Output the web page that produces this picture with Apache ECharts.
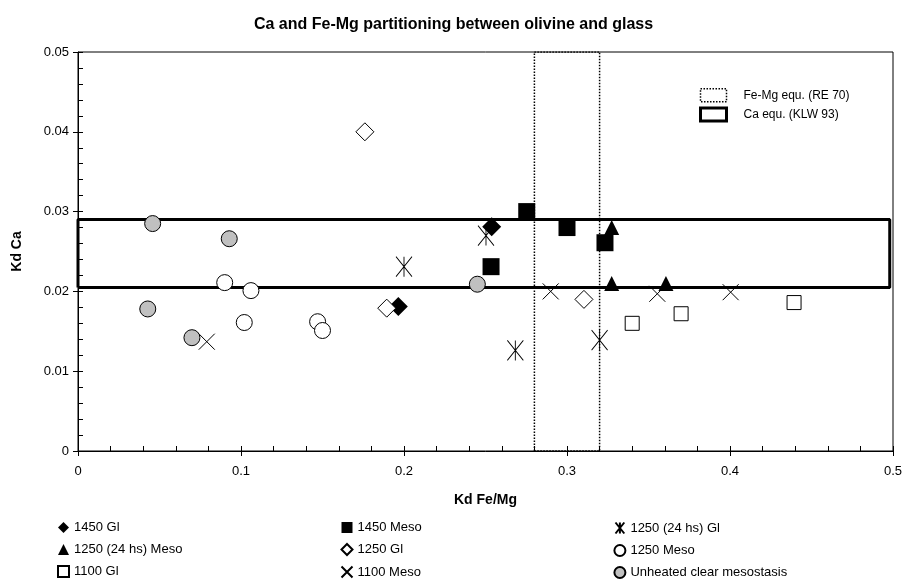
<!DOCTYPE html>
<html>
<head>
<meta charset="utf-8">
<script src="https://cdn.jsdelivr.net/npm/echarts@6/dist/echarts.min.js"></script>
<style>
html, body { margin: 0; padding: 0; background: #fff; }
#chart { width: 907px; height: 588px; }
</style>
</head>
<body>
<div id="chart"></div>
<script>
// data: [Kd Fe/Mg, Kd Ca]
var gl1450 = [[0.2538, 0.0281], [0.1965, 0.0181]];
var meso1450 = [[0.2753, 0.0300], [0.300, 0.0280], [0.2534, 0.0231], [0.3233, 0.0261]];
var gl1250h24 = [[0.200, 0.0231], [0.2503, 0.0270], [0.2683, 0.0126], [0.320, 0.0139]];
var meso1250h24 = [[0.3274, 0.0280], [0.3274, 0.0210], [0.3607, 0.0210]];
var gl1250 = [[0.176, 0.0400], [0.1894, 0.0179], [0.3104, 0.0190]];
var meso1250 = [[0.090, 0.0211], [0.1061, 0.0201], [0.102, 0.0161], [0.147, 0.0162], [0.150, 0.0151]];
var gl1100 = [[0.340, 0.0160], [0.370, 0.0172], [0.4393, 0.0186]];
var meso1100 = [[0.079, 0.0137], [0.290, 0.0200], [0.3554, 0.0197], [0.4004, 0.0199]];
var unheated = [[0.0458, 0.0285], [0.0928, 0.0266], [0.0428, 0.0178], [0.0699, 0.0142], [0.245, 0.0209]];

// equilibrium ranges
var feMgRange = [0.28, 0.32];   // Kd Fe/Mg
var caRange = [0.0205, 0.029];  // Kd Ca
var caXRange = [0, 0.498];

var xMax = 0.5, yMax = 0.05;

var FONT = 'Liberation Sans, Arial, sans-serif';
var starPath = 'path://M0,0L16,20M16,0L0,20M8,0L8,20';
var crossPath = 'path://M0,0L16,16M16,0L0,16';

function rectPath(x0, x1, y0, y1) {
    return [[x0, y0], [x0, y1], [x1, y1], [x1, y0], [x0, y0]];
}

function pts(name, data, symbol, size, fill, border) {
    return {
        name: name,
        type: 'scatter',
        data: data,
        symbol: symbol,
        symbolSize: size,
        z: 5,
        itemStyle: {
            color: fill,
            opacity: 1,
            borderColor: border ? '#000' : null,
            borderWidth: border ? 1 : 0
        }
    };
}

function bottomLegend(left, names) {
    return {
        orient: 'vertical', left: left, top: 520, height: 68, padding: 0,
        itemWidth: 11, itemHeight: 11, itemGap: 7,
        textStyle: { fontFamily: FONT, fontSize: 13, lineHeight: 15, color: '#000' },
        data: names
    };
}

var dom = document.getElementById('chart');
var myChart = echarts.init(dom);
var option = {
    animation: false,
    textStyle: { fontFamily: FONT },
    title: {
        text: 'Ca and Fe-Mg partitioning between olivine and glass',
        left: 'center',
        top: 12,
        textStyle: { fontFamily: FONT, fontSize: 16, fontWeight: 'bold', color: '#000' }
    },
    grid: {
        left: 78,
        right: 14,
        top: 52,
        bottom: 137,
        show: true,
        borderColor: '#000',
        borderWidth: 1
    },
    legend: [
        {   // range boxes, inside top right
            orient: 'vertical',
            left: 699,
            top: 88,
            padding: 0,
            itemWidth: 26,
            itemHeight: 13,
            itemGap: 4,
            textStyle: { fontFamily: FONT, fontSize: 12, color: '#000', padding: [0, 0, 0, 12] },
            data: [
                { name: 'Fe-Mg equ. (RE 70)', icon: 'rect',
                  itemStyle: { color: '#fff', borderColor: '#000', borderWidth: 1.5, borderType: 'dotted' } },
                { name: 'Ca equ. (KLW 93)', icon: 'rect',
                  itemStyle: { color: '#fff', borderColor: '#000', borderWidth: 3 } }
            ]
        },
        bottomLegend(57, ['1450 Gl', '1250 (24 hs) Meso', '1100 Gl']),
        bottomLegend(339, ['1450 Meso', '1250 Gl', '1100 Meso']),
        bottomLegend(613, ['1250 (24 hs) Gl', '1250 Meso', 'Unheated clear mesostasis'])
    ],
    xAxis: [
        {
            type: 'value', min: 0, max: xMax, interval: 0.1,
            name: 'Kd Fe/Mg', nameLocation: 'middle', nameGap: 42,
            nameTextStyle: { fontFamily: FONT, fontSize: 14, fontWeight: 'bold', color: '#000' },
            axisLine: { lineStyle: { color: '#000', width: 1 } },
            axisTick: { show: true, length: 5, lineStyle: { color: '#000' } },
            axisLabel: { color: '#000', fontSize: 13, margin: 14 },
            splitLine: { show: false }
        },
        {
            type: 'value', min: 0, max: xMax, interval: 0.02, position: 'bottom',
            axisLine: { show: false },
            axisTick: { show: true, inside: true, length: 5, lineStyle: { color: '#000' } },
            axisLabel: { show: false },
            splitLine: { show: false }
        }
    ],
    yAxis: [
        {
            type: 'value', min: 0, max: yMax, interval: 0.01,
            name: 'Kd Ca', nameLocation: 'middle', nameGap: 54,
            nameTextStyle: { fontFamily: FONT, fontSize: 14, fontWeight: 'bold', color: '#000' },
            axisLine: { lineStyle: { color: '#000', width: 1 } },
            axisTick: { show: true, length: 5, lineStyle: { color: '#000' } },
            axisLabel: { color: '#000', fontSize: 13, margin: 9 },
            splitLine: { show: false }
        },
        {
            type: 'value', min: 0, max: yMax, interval: 0.002, position: 'left',
            axisLine: { show: false },
            axisTick: { show: true, inside: true, length: 5, lineStyle: { color: '#000' } },
            axisLabel: { show: false },
            splitLine: { show: false }
        }
    ],
    series: [
        {
            name: 'Fe-Mg equ. (RE 70)',
            type: 'line',
            data: rectPath(feMgRange[0], feMgRange[1], 0, yMax),
            symbol: 'none',
            z: 2,
            lineStyle: { color: '#000', width: 1.5, type: 'dotted' }
        },
        {
            name: 'Ca equ. (KLW 93)',
            type: 'line',
            data: rectPath(caXRange[0], caXRange[1], caRange[0], caRange[1]),
            symbol: 'none',
            z: 3,
            lineStyle: { color: '#000', width: 3 }
        },
        pts('1450 Gl', gl1450, 'diamond', 19, '#000', false),
        pts('1450 Meso', meso1450, 'rect', 17, '#000', false),
        pts('1250 (24 hs) Gl', gl1250h24, starPath, [16, 20], 'none', true),
        pts('1250 (24 hs) Meso', meso1250h24, 'triangle', 15, '#000', false),
        pts('1250 Gl', gl1250, 'diamond', 18, '#fff', true),
        pts('1250 Meso', meso1250, 'circle', 16, '#fff', true),
        pts('1100 Gl', gl1100, 'rect', 14, '#fff', true),
        pts('1100 Meso', meso1100, crossPath, 16, 'none', true),
        pts('Unheated clear mesostasis', unheated, 'circle', 16, '#c0c0c0', true)
    ]
};
if (option && typeof option === "object") {
    myChart.setOption(option, true);
}
</script>
</body>
</html>
